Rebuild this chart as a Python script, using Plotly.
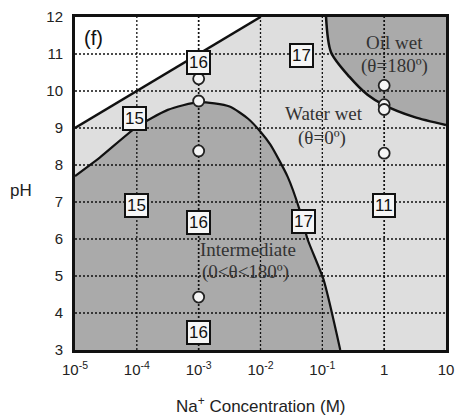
import numpy as np
import plotly.graph_objects as go

# ---- data ----
# upper boundary of water-wet region (white above)
white_logx = [-5.0, -2.0]
white_ph = [9.0, 12.0]
# intermediate region boundary
inter_logx = [-5.0, -4.6, -4.0, -3.5, -3.0, -2.5, -2.2, -2.0, -1.84, -1.56, -1.37, -1.24, -0.98, -0.71]
inter_ph = [7.7, 8.2, 9.03, 9.49, 9.7, 9.58, 9.25, 8.9, 8.55, 7.68, 6.8, 6.0, 4.9, 3.0]
# oil-wet region boundary
oil_logx = [-0.94, -0.86, -0.56, -0.27, 0.0, 0.48, 1.0]
oil_ph = [12.0, 11.05, 10.38, 9.9, 9.62, 9.3, 9.08]
# measured points
pts_x = [1e-3, 1e-3, 1e-3, 1e-3, 1, 1, 1, 1]
pts_ph = [10.33, 9.73, 8.38, 4.43, 10.15, 9.63, 9.5, 8.32]
# reference boxes
ref_labels = ["16", "15", "17", "15", "16", "17", "11", "16"]
ref_logx = [-3.0, -4.03, -1.34, -4.0, -3.0, -1.3, 0.0, -3.0]
ref_ph = [10.76, 9.27, 10.97, 6.9, 6.45, 6.47, 6.9, 3.48]
# axes
x_tickvals = [1e-5, 1e-4, 1e-3, 1e-2, 1e-1, 1, 10]
x_ticktext = ["10<sup>-5</sup>", "10<sup>-4</sup>", "10<sup>-3</sup>", "10<sup>-2</sup>",
              "10<sup>-1</sup>", "1", "10"]
y_tickvals = list(range(3, 13))

LIGHT = "#dedede"
DARK = "#aaaaaa"

fig = go.Figure()

def X(l):
    return [10 ** v for v in l]

# white region top-left
fig.add_trace(go.Scatter(x=X([-5.0] + white_logx + [-5.0]), y=[9.0] + [white_ph[0], white_ph[1]] + [12.0],
                         fill="toself", fillcolor="white", line=dict(width=0), mode="lines",
                         hoverinfo="skip", showlegend=False))
fig.add_trace(go.Scatter(x=X(white_logx), y=white_ph, mode="lines",
                         line=dict(color="#111", width=2.5), showlegend=False))
# intermediate region
fig.add_trace(go.Scatter(x=X([inter_logx[0], inter_logx[-1]]), y=[3.0, 3.0], mode="lines",
                         line=dict(width=0), showlegend=False, hoverinfo="skip"))
fig.add_trace(go.Scatter(x=X(inter_logx), y=inter_ph, mode="lines", fill="tonexty",
                         fillcolor=DARK, line=dict(color="#111", width=2.2, shape="spline", smoothing=0.6),
                         showlegend=False))
# oil-wet region
fig.add_trace(go.Scatter(x=X([oil_logx[0], oil_logx[-1]]), y=[12.0, 12.0], mode="lines",
                         line=dict(width=0), showlegend=False, hoverinfo="skip"))
fig.add_trace(go.Scatter(x=X(oil_logx), y=oil_ph, mode="lines", fill="tonexty",
                         fillcolor=DARK, line=dict(color="#111", width=2.5, shape="spline", smoothing=0.8),
                         showlegend=False))

# dotted grid above fills
for xv in x_tickvals[1:-1]:
    fig.add_trace(go.Scatter(x=[xv, xv], y=[3, 12], mode="lines",
                             line=dict(color="#111", width=1.7 if xv in (1e-3, 1) else 1.3, dash="2px,2px"),
                             showlegend=False, hoverinfo="skip"))
for yv in y_tickvals[1:-1]:
    fig.add_trace(go.Scatter(x=[1e-5, 10], y=[yv, yv], mode="lines",
                             line=dict(color="#111", width=1.3, dash="2px,2px"),
                             showlegend=False, hoverinfo="skip"))

# measured points
fig.add_trace(go.Scatter(x=pts_x, y=pts_ph, mode="markers",
                         marker=dict(symbol="circle", size=11, color="#f4f4f4",
                                     line=dict(color="#222", width=1.8)),
                         showlegend=False))

ann = []
for t, lx, p in zip(ref_labels, ref_logx, ref_ph):
    ann.append(dict(x=lx, y=p, xref="x", yref="y", text=t, showarrow=False,
                    font=dict(family="Liberation Sans", size=17, color="#111"),
                    bgcolor="#f6f6f6", bordercolor="#111", borderwidth=2, borderpad=1))

serif = dict(family="Liberation Serif", size=19, color="#333")
for t, lx, p in [("Oil wet", 0.16, 11.32), ("(θ=180º)", 0.16, 10.67),
                 ("Water wet", -0.97, 9.4), ("(θ=0º)", -1.0, 8.73),
                 ("Intermediate", -2.2, 5.72), ("(0<θ<180º)", -2.25, 5.1)]:
    ann.append(dict(x=lx, y=p, xref="x", yref="y", text=t, showarrow=False, font=serif))

ann.append(dict(x=0.02, y=0.975, xref="paper", yref="paper", text="(f)", showarrow=False,
                xanchor="left", yanchor="top",
                font=dict(family="Liberation Sans", size=20, color="#111")))
ann.append(dict(x=-0.145, y=0.48, xref="paper", yref="paper", text="pH", showarrow=False,
                xanchor="center", yanchor="middle",
                font=dict(family="Liberation Sans", size=17, color="#222")))
ann.append(dict(x=0.5, y=-0.165, xref="paper", yref="paper", text="Na<sup>+</sup> Concentration (M)",
                showarrow=False, xanchor="center", yanchor="middle",
                font=dict(family="Liberation Sans", size=17, color="#222")))

fig.update_layout(
    width=458, height=416, autosize=False,
    margin=dict(l=75, r=12, t=17, b=66, autoexpand=False),
    paper_bgcolor="white", plot_bgcolor=LIGHT,
    annotations=ann,
    xaxis=dict(type="log", range=[-5, 1], tickvals=x_tickvals, ticktext=x_ticktext,
               showgrid=False, zeroline=False, showline=True, linecolor="#111", linewidth=3,
               mirror=True, ticks="", ticklabelstandoff=4, layer="above traces", automargin=False,
               tickfont=dict(family="Liberation Sans", size=15, color="#222")),
    yaxis=dict(range=[3, 12], tickvals=y_tickvals, showgrid=False, zeroline=False,
               showline=True, linecolor="#111", linewidth=3, mirror=True, ticks="",
               ticklabelstandoff=6, layer="above traces", automargin=False,
               tickfont=dict(family="Liberation Sans", size=15, color="#222")),
)

fig.write_html("out.html", config={"displayModeBar": False, "responsive": False},
               post_script="document.body.style.margin='0';document.body.style.padding='0';"
                           "document.body.style.overflow='hidden';")
